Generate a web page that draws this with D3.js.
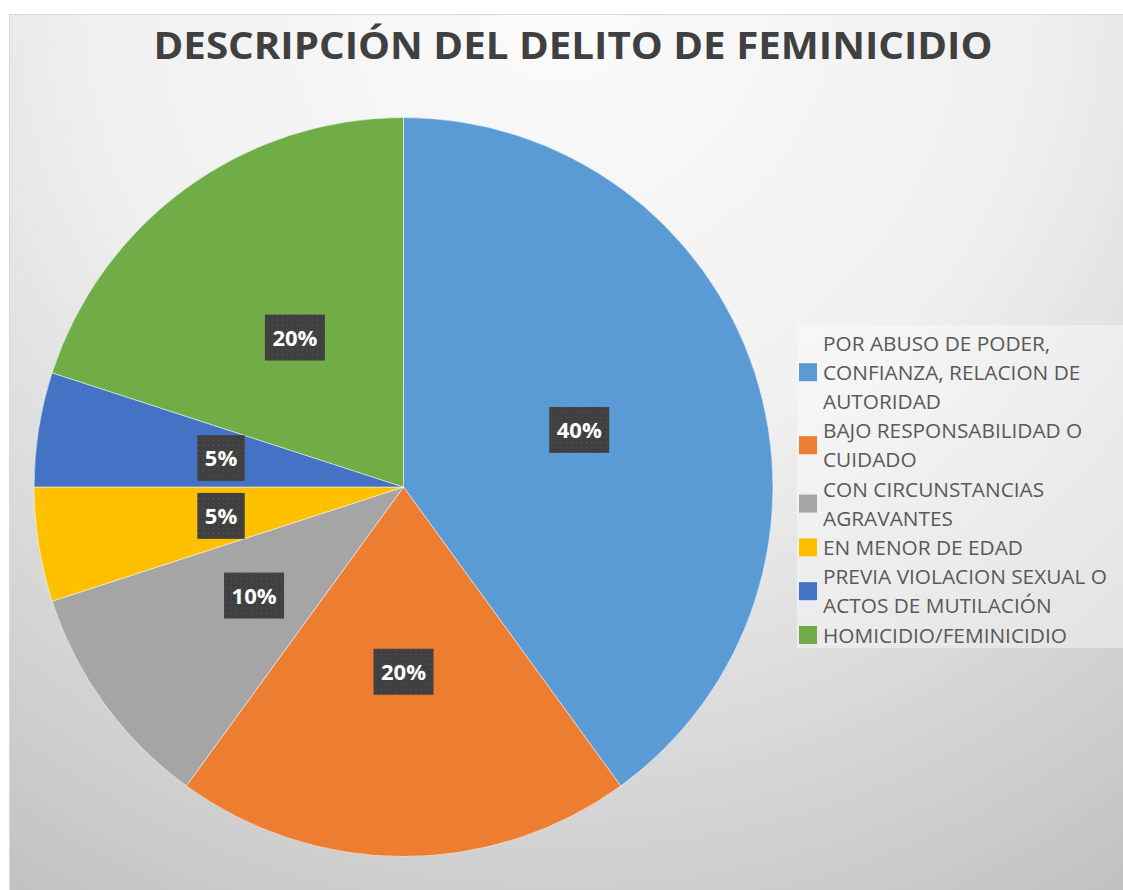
<!DOCTYPE html>
<html>
<head>
<meta charset="utf-8">
<script src="https://cdn.jsdelivr.net/npm/d3@7.9.0/dist/d3.min.js"></script>
<style>
  body { margin: 0; background: #fff; }
  svg { display: block; }
</style>
</head>
<body>
<svg id="chart" width="1123" height="890"></svg>
<script>
const title = 'DESCRIPCIÓN DEL DELITO DE FEMINICIDIO';

const categories = [
    'POR ABUSO DE PODER, CONFIANZA, RELACION DE AUTORIDAD',
    'BAJO RESPONSABILIDAD O CUIDADO',
    'CON CIRCUNSTANCIAS AGRAVANTES',
    'EN MENOR DE EDAD',
    'PREVIA VIOLACION SEXUAL O ACTOS DE MUTILACIÓN',
    'HOMICIDIO/FEMINICIDIO'
];

const values = [40, 20, 10, 5, 5, 20];

const colors = ['#5b9bd5', '#ed7d31', '#a5a5a5', '#ffc000', '#4472c4', '#70ad47'];

const width = 1123;
const height = 890;

const svg = d3.select('#chart');
const defs = svg.append('defs');

// chart area background, radial gradient like the office style
let grad = defs.append('radialGradient')
    .attr('id', 'bg')
    .attr('gradientUnits', 'userSpaceOnUse')
    .attr('cx', 560).attr('cy', 0)
    .attr('r', 1040);
grad.append('stop').attr('offset', '0%').attr('stop-color', '#fbfbfb');
grad.append('stop').attr('offset', '45%').attr('stop-color', '#f0f0f0');
grad.append('stop').attr('offset', '100%').attr('stop-color', '#c2c2c2');

let dots = defs.append('pattern')
    .attr('id', 'dots')
    .attr('patternUnits', 'userSpaceOnUse')
    .attr('width', 5).attr('height', 5);
dots.append('rect').attr('width', 5).attr('height', 5).attr('fill', '#404040');
dots.append('rect').attr('x', 2).attr('y', 2).attr('width', 1).attr('height', 1).attr('fill', '#5a5a5a');

svg.append('rect')
    .attr('x', 9.5).attr('y', 14.5)
    .attr('width', width + 20).attr('height', height + 20)
    .attr('fill', 'url(#bg)')
    .attr('stroke', '#d9d9d9')
    .attr('stroke-width', 1);

// title
svg.append('text')
    .attr('x', 573).attr('y', 59)
    .attr('text-anchor', 'middle')
    .attr('font-family', 'Open Sans')
    .attr('font-weight', 700)
    .attr('font-size', 38)
    .attr('fill', '#404040')
    .attr('textLength', 839)
    .attr('lengthAdjust', 'spacingAndGlyphs')
    .text(title);

// pie
const cx = 403.5, cy = 487, radius = 369.5;

let data = categories.map((c, i) => ({ label: c, value: values[i], color: colors[i] }));

let pie = d3.pie().value((d) => d.value).sort(null);
let arc = d3.arc().innerRadius(0).outerRadius(radius);

let g = svg.append('g').attr('transform', `translate(${cx},${cy})`);
let arcData = pie(data);

g.selectAll('path')
    .data(arcData)
    .join('path')
    .attr('d', arc)
    .attr('fill', (d) => d.data.color)
    .attr('stroke', '#ffffff')
    .attr('stroke-opacity', 0.5)
    .attr('stroke-width', 1);

let total = d3.sum(values);

arcData.forEach((d) => {
    let [x, y] = arc.centroid(d);
    let label = g.append('g').attr('transform', `translate(${x},${y})`);
    let box = label.append('rect').attr('fill', 'url(#dots)');
    let t = label.append('text')
        .attr('text-anchor', 'middle')
        .attr('y', 8)
        .attr('font-family', 'Open Sans')
        .attr('font-weight', 700)
        .attr('font-size', 22)
        .attr('fill', '#ffffff')
        .text(Math.round(d.data.value / total * 100) + '%');
    let w = t.node().getComputedTextLength() + 15;
    box.attr('x', -w / 2).attr('y', -23).attr('width', w).attr('height', 46);
});

// legend
let legend = svg.append('g');
legend.append('rect')
    .attr('x', 797).attr('y', 325)
    .attr('width', 330).attr('height', 323)
    .attr('fill', '#ffffff')
    .attr('fill-opacity', 0.4);

const fontSize = 20.8;
const lineH = 29.2;
const maxW = 300;
let lineY = 343;

let measure = svg.append('text')
    .attr('font-family', 'Open Sans')
    .attr('font-size', fontSize)
    .attr('visibility', 'hidden');

function wrap(str) {
    let words = str.split(' ');
    let lines = [];
    let cur = '';
    words.forEach((w) => {
        let test = cur ? cur + ' ' + w : w;
        measure.text(test);
        if (measure.node().getComputedTextLength() > maxW && cur) {
            lines.push(cur);
            cur = w;
        } else {
            cur = test;
        }
    });
    lines.push(cur);
    return lines;
}

data.forEach((d) => {
    let lines = wrap(d.label);
    let mid = lineY + (lines.length - 1) * lineH / 2;
    legend.append('rect')
        .attr('x', 799).attr('y', mid - 9)
        .attr('width', 18).attr('height', 18)
        .attr('fill', d.color);
    lines.forEach((l, i) => {
        legend.append('text')
            .attr('x', 823)
            .attr('y', lineY + i * lineH + 7.5)
            .attr('font-family', 'Open Sans')
            .attr('font-size', fontSize)
            .attr('fill', '#595959')
            .text(l);
    });
    lineY += lines.length * lineH;
});
measure.remove();
</script>
</body>
</html>
